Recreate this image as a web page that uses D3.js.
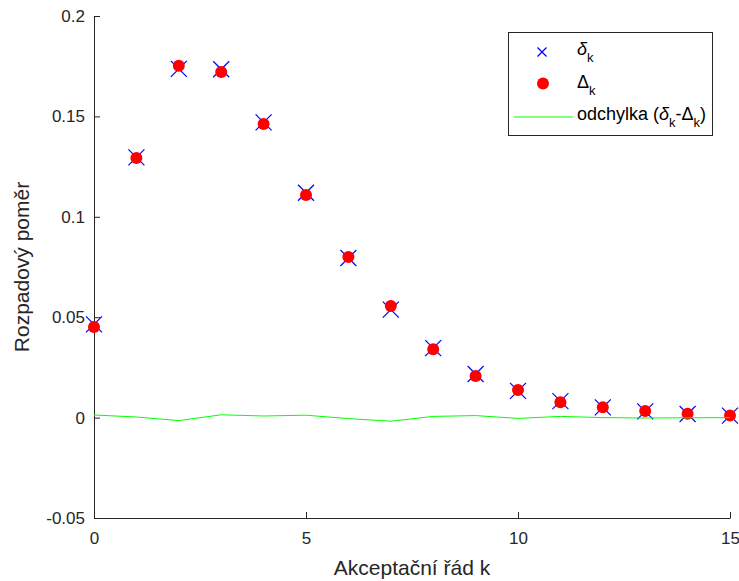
<!DOCTYPE html>
<html>
<head>
<meta charset="utf-8">
<script src="https://cdn.jsdelivr.net/npm/d3@7/dist/d3.min.js"></script>
<style>
  body { margin: 0; background: #fff; }
  svg { display: block; font-family: "Liberation Sans", Arial, Helvetica, sans-serif; }
</style>
</head>
<body>
<svg id="chart" width="739" height="581"></svg>
<script>
// ---- data ----
const kValues = [0, 1, 2, 3, 4, 5, 6, 7, 8, 9, 10, 11, 12, 13, 14, 15];
const deltaSmall = [0.0464, 0.1296, 0.1737, 0.1735, 0.1470, 0.1120, 0.0795, 0.0538, 0.0346, 0.0217, 0.0133, 0.0082, 0.0051, 0.0031, 0.0018, 0.0010];
const deltaBig   = [0.0451, 0.1293, 0.1752, 0.1721, 0.1462, 0.1108, 0.0800, 0.0556, 0.0340, 0.0207, 0.0137, 0.0076, 0.0051, 0.0033, 0.0019, 0.0010];
const deviation  = [0.0013, 0.0003, -0.0015, 0.0014, 0.0008, 0.0012, -0.0005, -0.0018, 0.0006, 0.0010, -0.0004, 0.0006, 0.0000, -0.0002, -0.0001, 0.0000];
const xTicks = [0, 5, 10, 15];
const yTicks = [-0.05, 0, 0.05, 0.1, 0.15, 0.2];
const yTickLabels = ["-0.05", "0", "0.05", "0.1", "0.15", "0.2"];

// ---- layout ----
const svg = d3.select("#chart");
const mLeft = 94, mRight = 730, mTop = 16, mBottom = 518;
const x = d3.scaleLinear().domain([0, 15]).range([mLeft, mRight]);
const y = d3.scaleLinear().domain([-0.05, 0.2]).range([mBottom, mTop]);
const axisColor = "#262626";

// axes
const xAxis = d3.axisBottom(x).tickValues(xTicks).tickFormat(d3.format("d")).tickSizeInner(-6).tickSizeOuter(0).tickPadding(14);
const yAxis = d3.axisLeft(y).tickValues(yTicks).tickFormat((d, i) => yTickLabels[i]).tickSizeInner(-6).tickSizeOuter(0).tickPadding(9);

const gx = svg.append("g").attr("transform", `translate(0,${mBottom})`).call(xAxis);
const gy = svg.append("g").attr("transform", `translate(${mLeft},0)`).call(yAxis);
[gx, gy].forEach(g => {
  g.selectAll("path").attr("stroke", axisColor).attr("stroke-width", 1);
  g.selectAll("line").attr("stroke", axisColor).attr("stroke-width", 1);
  g.selectAll("text").attr("fill", axisColor).style("font-size", "17px").style("font-family", "Liberation Sans, Arial, sans-serif");
});
gx.selectAll("text").attr("dy", "0.71em");

// axis labels
svg.append("text").attr("x", (mLeft + mRight) / 2).attr("y", 575)
  .attr("text-anchor", "middle").attr("fill", axisColor).style("font-size", "21px")
  .text("Akceptační řád k");
svg.append("text").attr("transform", `translate(29,${(mTop + mBottom) / 2}) rotate(-90)`)
  .attr("text-anchor", "middle").attr("fill", axisColor).style("font-size", "21px")
  .text("Rozpadový poměr");

// crosses (delta_k)
const cs = 8;
const crosses = svg.append("g").attr("stroke", "#0000ff").attr("stroke-width", 1.2);
kValues.forEach((k, i) => {
  const cx = x(k), cy = y(deltaSmall[i]);
  crosses.append("line").attr("x1", cx - cs).attr("y1", cy - cs).attr("x2", cx + cs).attr("y2", cy + cs);
  crosses.append("line").attr("x1", cx - cs).attr("y1", cy + cs).attr("x2", cx + cs).attr("y2", cy - cs);
});

// dots (Delta_k)
svg.append("g").selectAll("circle").data(kValues).join("circle")
  .attr("cx", d => x(d)).attr("cy", (d, i) => y(deltaBig[i])).attr("r", 6)
  .attr("fill", "#ff0000");

// deviation line
const line = d3.line().x((d, i) => x(kValues[i])).y(d => y(d));
svg.append("path").datum(deviation).attr("d", line)
  .attr("fill", "none").attr("stroke", "#00ff00").attr("stroke-width", 1);

// legend
const lg = svg.append("g");
lg.append("rect").attr("x", 508.5).attr("y", 32.5).attr("width", 204).attr("height", 103)
  .attr("fill", "#fff").attr("stroke", axisColor).attr("stroke-width", 1);
const lcs = 4.5;
lg.append("line").attr("x1", 542 - lcs).attr("y1", 52 - lcs).attr("x2", 542 + lcs).attr("y2", 52 + lcs).attr("stroke", "#0000ff").attr("stroke-width", 1.2);
lg.append("line").attr("x1", 542 - lcs).attr("y1", 52 + lcs).attr("x2", 542 + lcs).attr("y2", 52 - lcs).attr("stroke", "#0000ff").attr("stroke-width", 1.2);
lg.append("circle").attr("cx", 543).attr("cy", 83.5).attr("r", 6).attr("fill", "#ff0000");
lg.append("line").attr("x1", 514).attr("y1", 117).attr("x2", 573).attr("y2", 117).attr("stroke", "#00ff00").attr("stroke-width", 1);

const t1 = lg.append("text").attr("x", 577).attr("y", 55).attr("fill", "#000").style("font-size", "18px");
t1.append("tspan").style("font-style", "italic").text("δ");
t1.append("tspan").attr("dy", 7).style("font-size", "13px").text("k");

const t2 = lg.append("text").attr("x", 577).attr("y", 88).attr("fill", "#000").style("font-size", "18px");
t2.append("tspan").text("Δ");
t2.append("tspan").attr("dy", 7).style("font-size", "13px").text("k");

const t3 = lg.append("text").attr("x", 577).attr("y", 120).attr("fill", "#000").style("font-size", "18px");
t3.append("tspan").text("odchylka (");
t3.append("tspan").style("font-style", "italic").text("δ");
t3.append("tspan").attr("dy", 7).style("font-size", "13px").text("k");
t3.append("tspan").attr("dy", -7).text("-Δ");
t3.append("tspan").attr("dy", 7).style("font-size", "13px").text("k");
t3.append("tspan").attr("dy", -7).text(")");
</script>
</body>
</html>
